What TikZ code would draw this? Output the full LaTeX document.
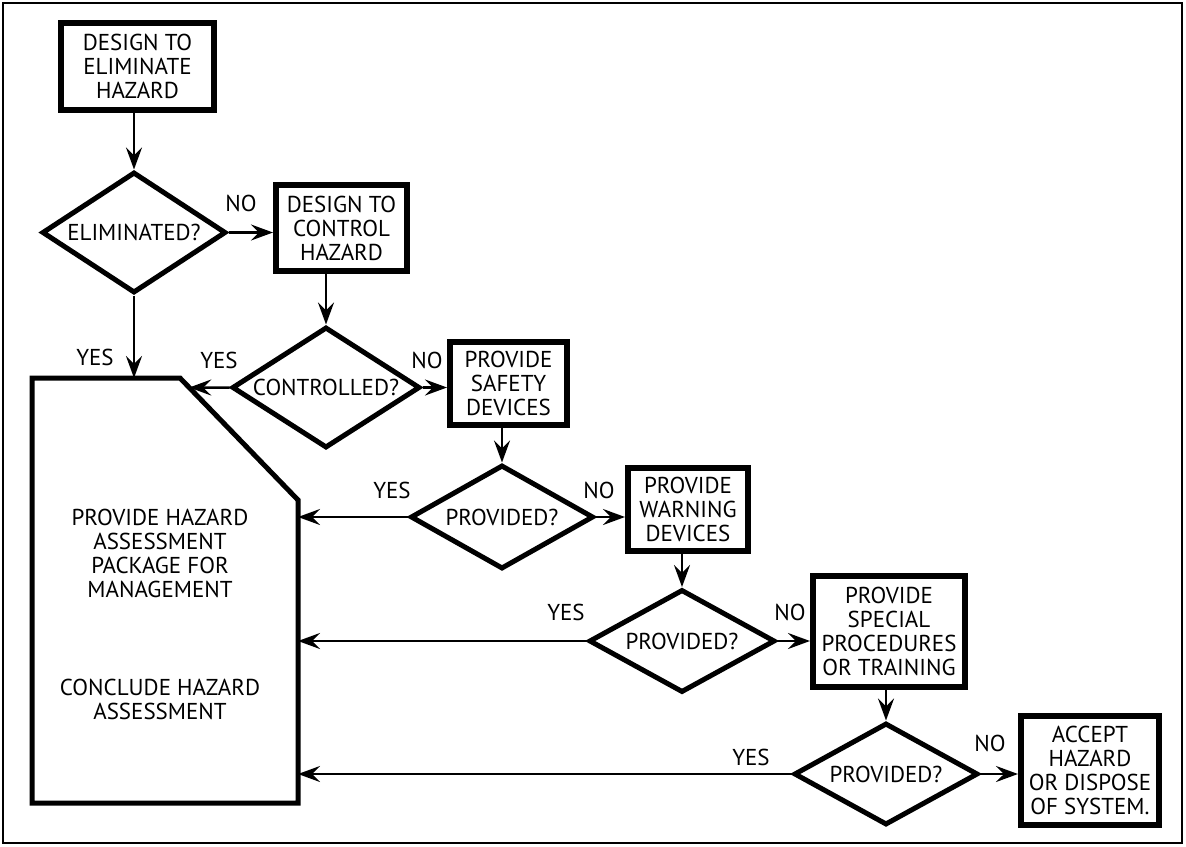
\documentclass[tikz,border=0pt]{standalone}
\usepackage{fontspec}
\setmainfont{PT Sans}
\usetikzlibrary{shapes.geometric,arrows.meta}
\tikzset{
  every node/.style={font=\fontsize{23}{24}\selectfont},
  box/.style={draw,line width=6pt,rectangle,align=center,inner sep=0pt},
  dia/.style={draw,line width=5pt,diamond,aspect=1.7,inner sep=0pt},
  lbl/.style={inner sep=0pt},
  arr/.style={line width=2.5pt,-{Stealth[length=22pt,width=16pt,inset=8pt]}},
  bigbox/.style={line width=5pt,line join=miter},
  frame/.style={line width=2.5pt}
}
\begin{document}
\begin{tikzpicture}[x=1pt,y=-1pt]
\useasboundingbox (0,0) rectangle (1186,846);
\draw[frame] (3,3) rectangle (1182,843);

% process boxes
\node[box,minimum width=153pt,minimum height=87pt] (b1) at (137.5,66.5) {DESIGN TO\\ELIMINATE\\HAZARD};
\node[box,minimum width=131pt,minimum height=86pt] (b2) at (341.5,228) {DESIGN TO\\CONTROL\\HAZARD};
\node[box,minimum width=117pt,minimum height=83pt] (b3) at (508.5,383.5) {PROVIDE\\SAFETY\\DEVICES};
\node[box,minimum width=120pt,minimum height=83pt] (b4) at (688,509.5) {PROVIDE\\WARNING\\DEVICES};
\node[box,minimum width=152pt,minimum height=111pt] (b5) at (889,631.5) {PROVIDE\\SPECIAL\\PROCEDURES\\OR TRAINING};
\node[box,minimum width=138pt,minimum height=109pt] (b6) at (1090,770.5) {ACCEPT\\HAZARD\\OR DISPOSE\\OF SYSTEM.};

% decisions
\node[dia,minimum width=184pt,minimum height=121pt] (d1) at (134,232.5) {ELIMINATED?};
\node[dia,minimum width=188pt,minimum height=121pt] (d2) at (326,387.5) {CONTROLLED?};
\node[dia,minimum width=183pt,minimum height=104pt] (d3) at (502,517) {PROVIDED?};
\node[dia,minimum width=186pt,minimum height=103pt] (d4) at (682,641) {PROVIDED?};
\node[dia,minimum width=184pt,minimum height=102pt] (d5) at (886,774) {PROVIDED?};

% assessment block
\coordinate (A1) at (32,378);
\coordinate (A2) at (180,378);
\coordinate (A3) at (298,500);
\coordinate (A4) at (298,803);
\coordinate (A5) at (32,803);
\draw[bigbox] (A1) -- (A2) -- (A3) -- (A4) -- (A5) -- cycle;
\node[align=center,inner sep=0pt] (t1) at (160,553) {PROVIDE HAZARD\\ASSESSMENT\\PACKAGE FOR\\MANAGEMENT};
\node[align=center,inner sep=0pt] (t2) at (160,699) {CONCLUDE HAZARD\\ASSESSMENT};

% connectors
\draw[arr] (b1.south -| d1.north) -- (d1.north);
\draw[arr] (d1.east) -- (d1.east -| b2.west);
\draw[arr] (b2.south -| d2.north) -- (d2.north);
\draw[arr] (d2.east) -- (d2.east -| b3.west);
\draw[arr] (b3.south -| d3.north) -- (d3.north);
\draw[arr] (d3.east) -- (d3.east -| b4.west);
\draw[arr] (b4.south -| d4.north) -- (d4.north);
\draw[arr] (d4.east) -- (d4.east -| b5.west);
\draw[arr] (b5.south -| d5.north) -- (d5.north);
\draw[arr] (d5.east) -- (d5.east -| b6.west);

\draw[arr] (d1.south) -- (d1.south |- A1);
\coordinate (dx) at (d2.west -| A1);
\draw[arr] (d2.west) -- (intersection of A2--A3 and d2.west--dx);
\draw[arr] (d3.west) -- (d3.west -| A4);
\draw[arr] (d4.west) -- (d4.west -| A4);
\draw[arr] (d5.west) -- (d5.west -| A4);

% labels
\node[lbl] (n1) at (241,203) {NO};
\node[lbl] (y1) at (95,357) {YES};
\node[lbl] (y2) at (219,360) {YES};
\node[lbl] (n2) at (427,360) {NO};
\node[lbl] (y3) at (392,490) {YES};
\node[lbl] (n3) at (599,490) {NO};
\node[lbl] (y4) at (566,612) {YES};
\node[lbl] (n4) at (790,612) {NO};
\node[lbl] (y5) at (751,757) {YES};
\node[lbl] (n5) at (990,743) {NO};
\end{tikzpicture}
\end{document}
